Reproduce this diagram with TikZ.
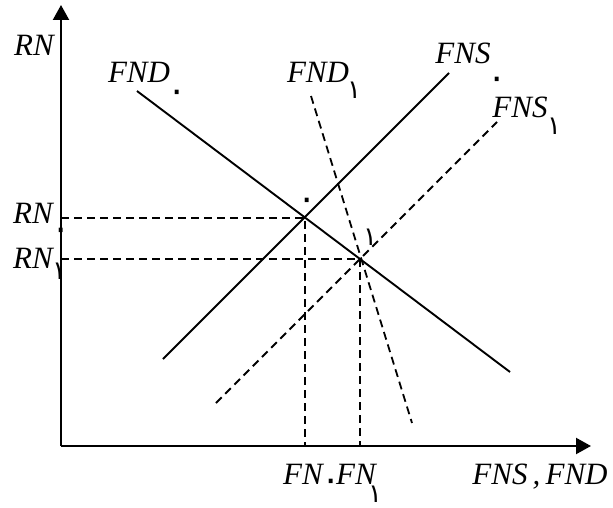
\documentclass[tikz,border=0pt]{standalone}
\usepackage{fontspec}
\setmainfont{Liberation Serif}
\newfontfamily\fadigit[Script=Arabic]{DejaVu Sans}
\usetikzlibrary{arrows.meta}
\newcommand{\idx}[1]{\makebox[0pt]{#1}}
\tikzset{
  axis/.style={line width=2.2pt, -{Triangle[length=15pt,width=16pt]}},
  curve/.style={line width=1.9pt},
  shifted/.style={line width=1.8pt, dash pattern=on 8pt off 5pt},
  guide/.style={line width=1.7pt, dash pattern=on 8pt off 5pt},
  lbl/.style={font=\fontsize{31}{31}\selectfont\itshape, inner sep=0pt, text depth=0pt},
  subone/.style={font=\fontsize{26}{26}\selectfont\fadigit, inner sep=0pt},
  subzero/.style={font=\fontsize{36}{36}\selectfont\fadigit, inner sep=0pt},
}

\begin{document}
\begin{tikzpicture}[x=1pt, y=-1pt]
  \useasboundingbox (0,0) rectangle (613,508);

  % ── Axes ─────────────────────────────────────────────────────────────────────
  \coordinate (O)  at (61,446);
  \coordinate (Yt) at (61,5);
  \coordinate (Xt) at (591,446);
  \draw[axis] (O) -- (Yt);
  \draw[axis] (O) -- (Xt);

  % ── Demand and supply curves ─────────────────────────────────────────────────
  \coordinate (D0a) at (137,91);   \coordinate (D0b) at (510,372);
  \coordinate (D1a) at (311,96);   \coordinate (D1b) at (412,423);
  \coordinate (S0a) at (163,359);  \coordinate (S0b) at (449,73);
  \coordinate (S1a) at (216,403);  \coordinate (S1b) at (497,122);

  \draw[curve]   (D0a) -- (D0b);
  \draw[curve]   (S0a) -- (S0b);
  \draw[shifted] (D1a) -- (D1b);
  \draw[shifted] (S1a) -- (S1b);

  % ── Equilibria ───────────────────────────────────────────────────────────────
  \coordinate (E0) at (305,218);
  \coordinate (E1) at (360,259);
  \coordinate (R0) at (61,218);
  \coordinate (R1) at (61,259);
  \coordinate (F0) at (305,446);
  \coordinate (F1) at (360,446);

  \draw[guide] (R0) -- (E0) -- (F0);
  \draw[guide] (R1) -- (E1) -- (F1);

  % ── Labels ───────────────────────────────────────────────────────────────────
  \node[lbl]     (rn)   at (34,45)   {RN};
  \node[lbl]     (rn0)  at (33,213)  {RN};
  \node[subzero] (rn0s) at (61,234)  {\idx{۰}};
  \node[lbl]     (rn1)  at (33,258)  {RN};
  \node[subone]  (rn1s) at (59,271)  {\idx{۱}};

  \node[lbl]     (fnd0)  at (139,72)  {FND};
  \node[subzero] (fnd0s) at (177,96)  {\idx{۰}};
  \node[lbl]     (fnd1)  at (318,72)  {FND};
  \node[subone]  (fnd1s) at (354,90)  {\idx{۱}};
  \node[lbl]     (fns0)  at (463,53)  {FNS};
  \node[subzero] (fns0s) at (497,83)  {\idx{۰}};
  \node[lbl]     (fns1)  at (520,107) {FNS};
  \node[subone]  (fns1s) at (554,126) {\idx{۱}};

  \node[subzero] (e0s) at (307,204) {\idx{۰}};
  \node[subone]  (e1s) at (370,237) {\idx{۱}};

  \node[lbl]     (fn0)  at (303,474) {FN};
  \node[subzero] (fn0s) at (331,485) {\idx{۰}};
  \node[lbl]     (fn1)  at (356,474) {FN};
  \node[subone]  (fn1s) at (375,494) {\idx{۱}};
  \node[lbl]     (xl)   at (540,474) {FNS\,,\,FND};

\end{tikzpicture}
\end{document}
